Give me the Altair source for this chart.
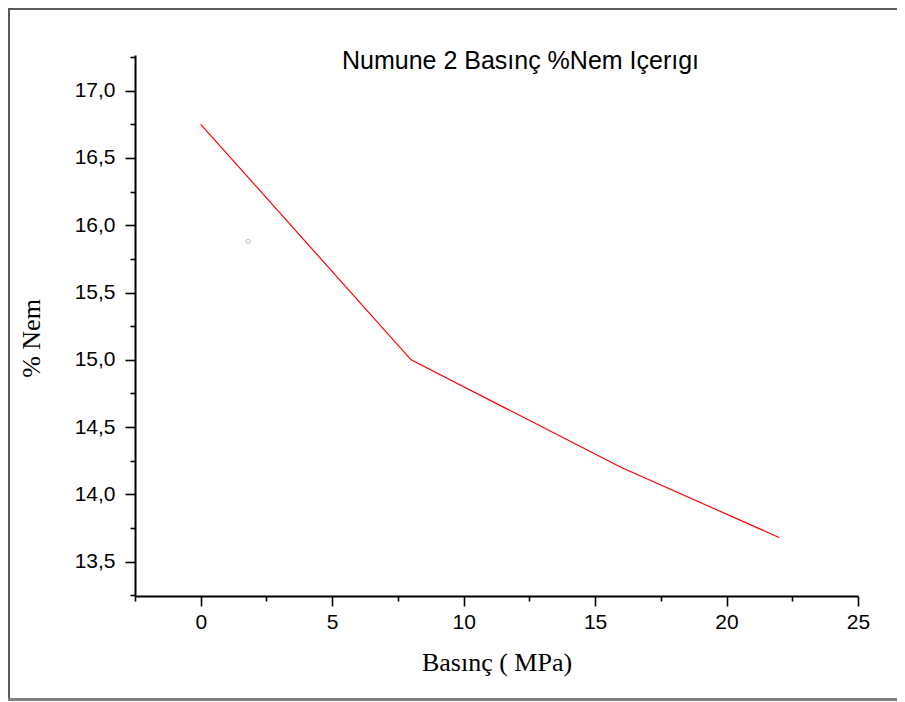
import altair as alt
import pandas as pd

# data
pressure = [0, 8, 16, 22]
moisture = [16.75, 15.0, 14.2, 13.68]
stray_x = [1.8]
stray_y = [15.88]

x_major = [0, 5, 10, 15, 20, 25]
x_minor = [-2.5, 2.5, 7.5, 12.5, 17.5, 22.5]
y_major = [13.5, 14.0, 14.5, 15.0, 15.5, 16.0, 16.5, 17.0]
y_minor = [13.25, 13.75, 14.25, 14.75, 15.25, 15.75, 16.25, 16.75, 17.25]

title_text = "Numune 2 Basınç %Nem Içerıgı"
x_title = "Basınç ( MPa)"
y_title = "% Nem"

df = pd.DataFrame({"p": pressure, "m": moisture})
df_pt = pd.DataFrame({"p": stray_x, "m": stray_y})
df_frame = pd.DataFrame({"k": [0]})

x_major_test = "datum.value % 5 === 0"

x_scale = alt.Scale(domain=[-2.5, 25], nice=False, zero=False)
y_scale = alt.Scale(domain=[13.245, 17.265], nice=False, zero=False)

x_axis = alt.Axis(
    values=sorted(x_major + x_minor),
    labelExpr=f"{x_major_test} ? format(datum.value, 'd') : ''",
    tickSize={"condition": {"test": x_major_test, "value": 10}, "value": 5},
    tickWidth=1.6, tickColor="black",
    domainColor="black", domainWidth=2,
    labelFont="Liberation Sans", labelFontSize=21, labelColor="black",
    labelPadding=5, labelFlush=False, labelOverlap=False,
    title=x_title, titleFont="Liberation Serif", titleFontSize=26,
    titleFontWeight="normal", titleColor="black",
    titleBaseline="alphabetic", titleY=74,
    grid=False,
)
y_axis = alt.Axis(
    orient="left",
    values=y_major,
    format=".1f",
    labelExpr="replace(datum.label, '.', ',')",
    tickSize=10,
    tickWidth=1.6, tickColor="black",
    domainColor="black", domainWidth=2,
    labelFont="Liberation Sans", labelFontSize=21, labelColor="black",
    labelPadding=10, labelFlush=False, labelOverlap=False,
    title=y_title, titleFont="Liberation Serif", titleFontSize=26,
    titleFontWeight="normal", titleColor="black",
    titleX=-104, titleY=283, titleBaseline="middle",
    grid=False,
)
y_minor_axis = alt.Axis(
    orient="left",
    values=y_minor,
    tickSize=5, tickWidth=1.6, tickColor="black",
    labels=False, domain=False, title=None, grid=False,
)

line = alt.Chart(df).mark_line(color="#ff0000", strokeWidth=1.2).encode(
    x=alt.X("p:Q", scale=x_scale, axis=x_axis),
    y=alt.Y("m:Q", scale=y_scale, axis=y_axis),
)

pt = alt.Chart(df_pt).mark_point(
    shape="circle", size=18, color="#a0a0c0", strokeWidth=1, filled=False
).encode(
    x=alt.X("p:Q", scale=x_scale, axis=x_axis),
    y=alt.Y("m:Q", scale=y_scale, axis=y_minor_axis),
)

# figure frame as thin filled bands (top, left, bottom; right edge off-page)
frame_left = alt.Chart(df_frame).mark_rect(color="#5a5a5a", strokeWidth=0).encode(
    x=alt.value(-127), x2=alt.value(-125), y=alt.value(-47), y2=alt.value(646)
)
frame_top = alt.Chart(df_frame).mark_rect(color="#5a5a5a", strokeWidth=0).encode(
    x=alt.value(-127), x2=alt.value(800), y=alt.value(-47), y2=alt.value(-45)
)
frame_bottom = alt.Chart(df_frame).mark_rect(color="#808080", strokeWidth=0).encode(
    x=alt.value(-127), x2=alt.value(800), y=alt.value(643), y2=alt.value(646)
)

chart = alt.layer(line, pt, frame_left, frame_top, frame_bottom).resolve_axis(
    y="independent"
).properties(
    width=723, height=541,
    background="white",
    padding={"left": 127, "top": 47, "right": 39, "bottom": 106},
    autosize=alt.AutoSizeParams(type="none"),
    title=alt.TitleParams(
        text=title_text, font="Liberation Sans", fontSize=25,
        fontWeight="normal", color="black", anchor="middle",
        offset=-17, dx=24, dy=49,
    ),
).configure_view(stroke=None, strokeWidth=0)

chart.save("out.html", embed_options={"renderer": "svg", "actions": False})
